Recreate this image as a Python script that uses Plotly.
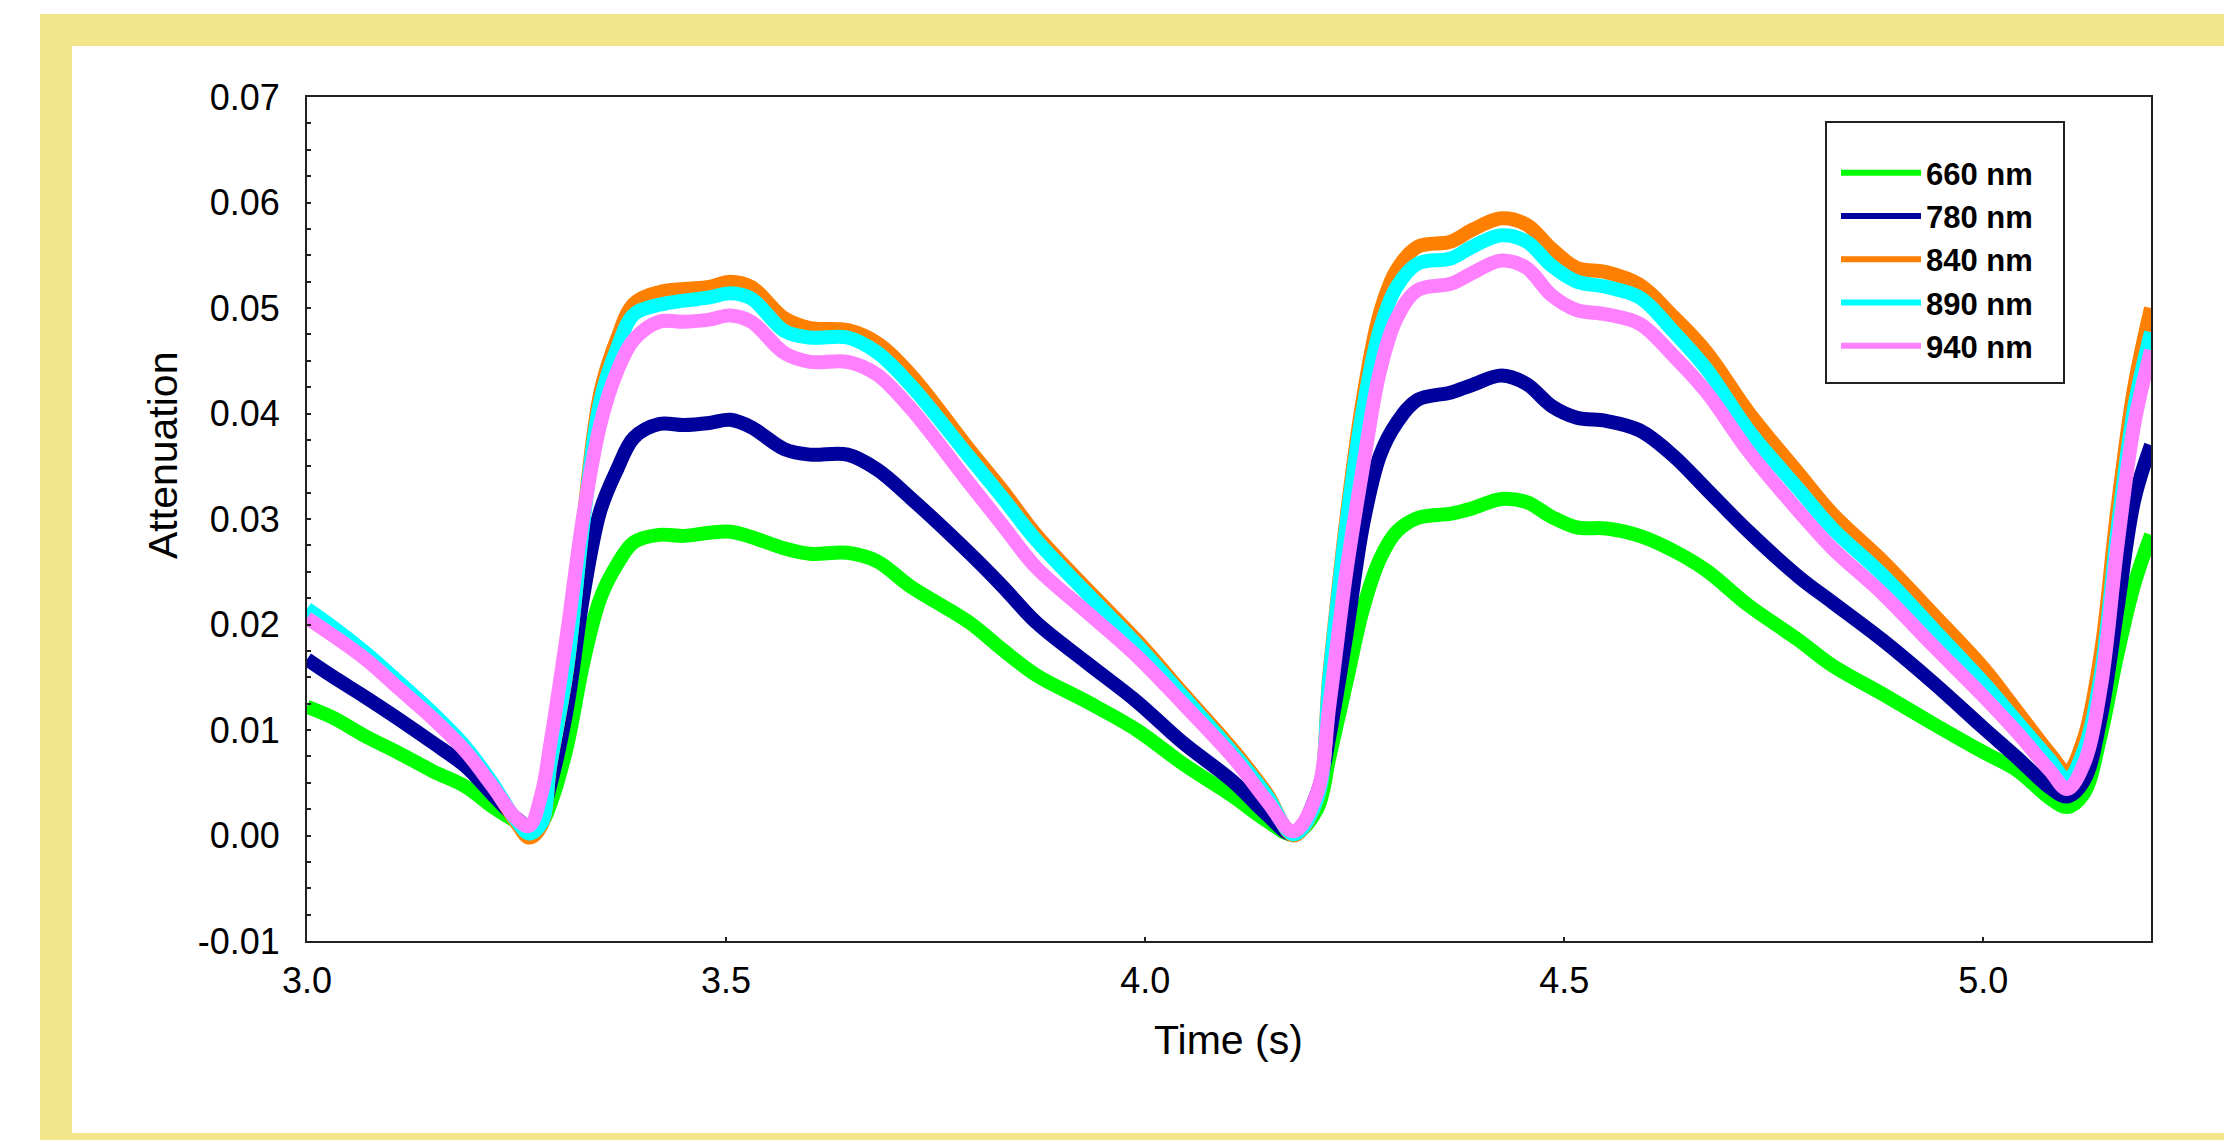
import plotly.graph_objects as go

# ---------------- data ----------------
time_s = [3.00, 3.03, 3.07, 3.11, 3.15, 3.19, 3.22, 3.25, 3.265, 3.28, 3.29, 3.31, 3.33, 3.35,
          3.37, 3.39, 3.42, 3.45, 3.48, 3.505, 3.53, 3.57, 3.60, 3.645, 3.68, 3.72, 3.79, 3.83,
          3.87, 3.93, 3.99, 4.045, 4.105, 4.145, 4.177, 4.205, 4.22, 4.24, 4.26, 4.28, 4.30,
          4.325, 4.365, 4.39, 4.425, 4.455, 4.485, 4.515, 4.55, 4.59, 4.63, 4.67, 4.72, 4.78,
          4.82, 4.88, 4.94, 5.00, 5.04, 5.08, 5.10, 5.12, 5.14, 5.16, 5.18, 5.20]

att_660 = [0.0122, 0.0112, 0.0094, 0.0078, 0.0061, 0.0046, 0.0028, 0.0013, 0.0006, 0.0012, 0.0029,
           0.0084, 0.0165, 0.0225, 0.0257, 0.0278, 0.0285, 0.0284, 0.0287, 0.0288, 0.0283, 0.0272,
           0.0267, 0.0268, 0.0260, 0.0236, 0.0202, 0.0176, 0.0152, 0.0127, 0.0100, 0.0068, 0.0037,
           0.0014, 0.0001, 0.0025, 0.0075, 0.0145, 0.0215, 0.0262, 0.0288, 0.0301, 0.0305, 0.0310,
           0.0319, 0.0316, 0.0302, 0.0292, 0.0291, 0.0284, 0.0270, 0.0251, 0.0218, 0.0185, 0.0161,
           0.0134, 0.0106, 0.0079, 0.0062, 0.0035, 0.0027, 0.0040, 0.0095, 0.0172, 0.0238, 0.0285]

att_780 = [0.0167, 0.0151, 0.0131, 0.0110, 0.0088, 0.0065, 0.0040, 0.0016, 0.0009, 0.0022, 0.0047,
           0.0120, 0.0229, 0.0308, 0.0347, 0.0377, 0.0390, 0.0389, 0.0391, 0.0394, 0.0387, 0.0366,
           0.0361, 0.0361, 0.0347, 0.0320, 0.0268, 0.0236, 0.0202, 0.0164, 0.0127, 0.0088, 0.0051,
           0.0020, 0.0001, 0.0040, 0.0095, 0.0190, 0.0295, 0.0360, 0.0391, 0.0413, 0.0420, 0.0427,
           0.0436, 0.0428, 0.0407, 0.0396, 0.0393, 0.0384, 0.0360, 0.0328, 0.0288, 0.0245, 0.0221,
           0.0185, 0.0145, 0.0102, 0.0074, 0.0045, 0.0037, 0.0052, 0.0112, 0.0215, 0.0318, 0.0370]

att_840 = [0.0213, 0.0197, 0.0172, 0.0144, 0.0115, 0.0082, 0.0050, 0.0012, -0.0002, 0.0010, 0.0065,
           0.0156, 0.0301, 0.0420, 0.0471, 0.0504, 0.0515, 0.0518, 0.0520, 0.0525, 0.0520, 0.0490,
           0.0481, 0.0479, 0.0467, 0.0437, 0.0366, 0.0327, 0.0285, 0.0234, 0.0185, 0.0135, 0.0081,
           0.0040, 0.0000, 0.0034, 0.0155, 0.0300, 0.0415, 0.0495, 0.0536, 0.0558, 0.0563, 0.0574,
           0.0585, 0.0579, 0.0556, 0.0538, 0.0534, 0.0522, 0.0492, 0.0458, 0.0401, 0.0343, 0.0305,
           0.0260, 0.0210, 0.0159, 0.0118, 0.0077, 0.0060, 0.0092, 0.0172, 0.0310, 0.0425, 0.0500]

att_890 = [0.0215, 0.0198, 0.0173, 0.0145, 0.0116, 0.0083, 0.0051, 0.0014, 0.0002, 0.0012, 0.0066,
           0.0157, 0.0298, 0.0412, 0.0462, 0.0494, 0.0503, 0.0507, 0.0510, 0.0514, 0.0509, 0.0478,
           0.0472, 0.0472, 0.0458, 0.0427, 0.0359, 0.0320, 0.0280, 0.0230, 0.0181, 0.0132, 0.0078,
           0.0038, 0.0001, 0.0034, 0.0152, 0.0295, 0.0405, 0.0480, 0.0520, 0.0542, 0.0547, 0.0558,
           0.0569, 0.0563, 0.0540, 0.0525, 0.0520, 0.0510, 0.0478, 0.0442, 0.0384, 0.0328, 0.0291,
           0.0247, 0.0196, 0.0145, 0.0108, 0.0071, 0.0053, 0.0081, 0.0152, 0.0290, 0.0406, 0.0477]

att_940 = [0.0206, 0.0190, 0.0167, 0.0139, 0.0111, 0.0079, 0.0048, 0.0016, 0.0009, 0.0040, 0.0085,
           0.0190, 0.0305, 0.0390, 0.0440, 0.0470, 0.0487, 0.0487, 0.0489, 0.0493, 0.0487, 0.0457,
           0.0449, 0.0449, 0.0437, 0.0405, 0.0334, 0.0294, 0.0254, 0.0212, 0.0170, 0.0125, 0.0074,
           0.0033, 0.0004, 0.0040, 0.0125, 0.0250, 0.0350, 0.0440, 0.0490, 0.0517, 0.0523, 0.0533,
           0.0545, 0.0538, 0.0512, 0.0498, 0.0494, 0.0485, 0.0455, 0.0420, 0.0364, 0.0307, 0.0272,
           0.0229, 0.0180, 0.0132, 0.0098, 0.0061, 0.0044, 0.0068, 0.0140, 0.0275, 0.0390, 0.0460]

series_names = ["660 nm", "780 nm", "840 nm", "890 nm", "940 nm"]
series_values = [att_660, att_780, att_840, att_890, att_940]
series_colors = ["#00FF00", "#00009C", "#FF8000", "#00FFFF", "#FF80FF"]

x_tick_vals = [3.0, 3.5, 4.0, 4.5, 5.0]
x_tick_text = ["3.0", "3.5", "4.0", "4.5", "5.0"]
y_tick_vals = [-0.01, 0.0, 0.01, 0.02, 0.03, 0.04, 0.05, 0.06, 0.07]
y_tick_text = ["-0.01", "0.00", "0.01", "0.02", "0.03", "0.04", "0.05", "0.06", "0.07"]

# ---------------- layout geometry ----------------
# The page body has an 8 px margin, so figure coordinates = page coordinates - 8.
OFF = 8
PAGE_W, PAGE_H = 2232, 1140
W, H = PAGE_W - OFF, PAGE_H - OFF
L, R, T, B = 307 - OFF, 2151 - OFF, 97 - OFF, 941 - OFF   # plot area edges (figure px)
PW, PH = R - L, B - T


def px(page_x):
    return (page_x - OFF - L) / PW


def py(page_y):
    return (B - (page_y - OFF)) / PH


FONT = "Arial, 'Liberation Sans', Helvetica, sans-serif"
FRAME = "#F2E58C"
AXIS_COL = "#222222"

fig = go.Figure()
for name, vals, col in zip(series_names, series_values, series_colors):
    fig.add_trace(go.Scatter(
        x=time_s, y=vals, name=name, mode="lines", legendgroup=name, showlegend=False,
        line=dict(color=col, width=14, shape="spline", smoothing=1.0),
    ))
# legend entries (thinner sample lines, as in the original legend)
for name, col in zip(series_names, series_colors):
    fig.add_trace(go.Scatter(
        x=[None], y=[None], name=name, mode="lines", legendgroup=name, showlegend=True,
        line=dict(color=col, width=6),
    ))

shapes = [
    # white above the frame
    dict(type="rect", xref="paper", yref="paper", x0=px(0), x1=px(2300),
         y0=py(14), y1=py(-20), fillcolor="white", line_width=0, layer="below"),
    # yellow decorative frame
    dict(type="rect", xref="paper", yref="paper", x0=px(40), x1=px(2300), y0=py(46), y1=py(14),
         fillcolor=FRAME, line_width=0, layer="below"),
    dict(type="rect", xref="paper", yref="paper", x0=px(40), x1=px(72), y0=py(1200), y1=py(14),
         fillcolor=FRAME, line_width=0, layer="below"),
    dict(type="rect", xref="paper", yref="paper", x0=px(40), x1=px(2300), y0=py(1200), y1=py(1133),
         fillcolor=FRAME, line_width=0, layer="below"),
    # legend box
    dict(type="rect", xref="paper", yref="paper", x0=px(1826), x1=px(2064), y0=py(383), y1=py(122),
         fillcolor="rgba(0,0,0,0)", line=dict(color=AXIS_COL, width=2), layer="above"),
]

annotations = [
    dict(text="Time (s)", xref="paper", yref="paper", x=px(1228), y=py(1040),
         xanchor="center", yanchor="middle", showarrow=False,
         font=dict(family=FONT, size=41, color="black")),
    dict(text="Attenuation", xref="paper", yref="paper", x=px(163), y=py(456),
         xanchor="center", yanchor="middle", showarrow=False, textangle=-90,
         font=dict(family=FONT, size=41, color="black")),
]

axis_common = dict(
    showline=True, linecolor=AXIS_COL, linewidth=2, mirror=True,
    showgrid=False, zeroline=False,
    ticks="inside", ticklen=4, tickwidth=1.5, tickcolor=AXIS_COL,
    tickfont=dict(family=FONT, size=36, color="black"),
)

fig.update_layout(
    width=W, height=H,
    margin=dict(l=L, r=W - R, t=T, b=H - B, pad=0),
    paper_bgcolor="white", plot_bgcolor="white",
    font=dict(family=FONT, color="black"),
    xaxis=dict(range=[3.0, 5.2], tickmode="array", tickvals=x_tick_vals, ticktext=x_tick_text,
               ticklabelstandoff=7, **axis_common),
    yaxis=dict(range=[-0.01, 0.07], tickmode="array", tickvals=y_tick_vals, ticktext=y_tick_text,
               ticklabelstandoff=18,
               minor=dict(dtick=0.0025, ticks="inside", ticklen=4, tickwidth=1.5, tickcolor=AXIS_COL),
               **axis_common),
    legend=dict(x=px(1836), y=py(146), xanchor="left", yanchor="top",
                bgcolor="rgba(0,0,0,0)", borderwidth=0,
                font=dict(family=FONT, size=31, color="black", weight="bold"),
                itemwidth=80, tracegroupgap=0),
    shapes=shapes,
    annotations=annotations,
    showlegend=True,
)

fig.write_html("out.html")
